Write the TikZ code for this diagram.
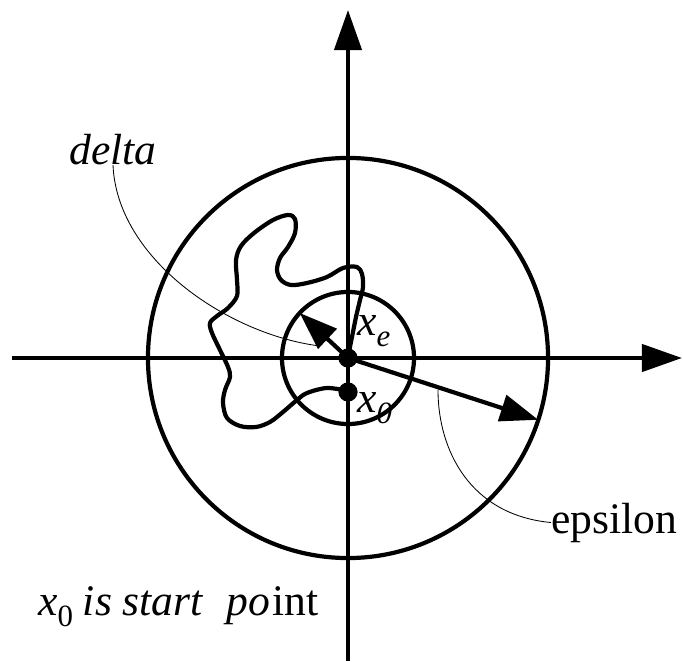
\documentclass[tikz,border=0pt]{standalone}
\usepackage{fontspec}
\setmainfont{Liberation Serif}
\usetikzlibrary{arrows.meta}
\newcommand\subidx[1]{\raisebox{-0.26em}{\fontsize{22}{22}\selectfont #1}}

\begin{document}
\begin{tikzpicture}[
x=0.025cm, y=-0.025cm,
axis/.style={line width=1.05mm, -{Triangle[length=1cm, width=0.675cm]}},
ring/.style={draw, circle, line width=1.05mm, inner sep=0pt, outer sep=0pt},
dot/.style={circle, fill, inner sep=0pt, minimum size=0.48cm},
radarr/.style={line width=1.05mm, -{Triangle[length=0.95cm, width=0.67cm]}},
leader/.style={line width=0.6pt},
walk/.style={line width=1.05mm, line join=round},
lbl/.style={inner sep=0pt, font=\fontsize{31}{37}\selectfont}
]
\useasboundingbox (0,0) rectangle (683,662);

% axes
\coordinate (xl) at (12,358);
\coordinate (xr) at (682,358);
\coordinate (yb) at (348,661);
\coordinate (yt) at (348,10);
\draw[axis] (xl) -- (xr);
\draw[axis] (yb) -- (yt);

% the two balls
\node[ring, minimum size=10cm] (big) at (348,358) {};
\node[ring, minimum size=3.3cm] (small) at (348,358) {};

% path of the point
\draw[walk] plot[smooth, tension=0.55] coordinates {
  (348,391) (327,388) (307,393) (297,400) (283,412) (270,422) (256,427)
  (240,426) (227,418) (223,403) (225,390) (230,377) (228,367) (220,350)
  (212,333) (210,323) (217,316) (228,308) (237,296) (237,280) (236,260)
  (241,246) (254,233) (273,220) (288,215) (295,219) (295,233) (288,247)
  (280,258) (277,270) (281,280) (291,285) (307,283) (327,277) (343,268)
  (357,267) (362,274) (363,287) (360,300) (356,317) (352,337) (348,357)};

\node[dot] (xe) at (348,358) {};
\node[dot] (x0) at (348,392) {};

% radii
\draw[radarr] (xe.center) -- (small.137);
\draw[radarr] (xe.center) -- (big.-18.6);

% labels
\node[lbl, anchor=base west] (xelbl) at (357,335) {\textit{x}\subidx{\textit{e}}};
\node[lbl, anchor=base west] (x0lbl) at (357,412) {\textit{x}\subidx{\textit{0}}};
\node[lbl, anchor=base] (delta) at (113,165) {\textit{delta}};
\node[lbl, anchor=base west] (eps) at (551,533) {epsilon};
\node[lbl, anchor=base west] (note) at (38,615)
  {\textit{x}\subidx{0}\hspace{7pt}\textit{is start}\hspace{16pt}\textit{po}\hspace{2pt}int};

% leaders
\coordinate (dtick) at (320,346);
\coordinate (etick) at (438,390);
\draw[leader] (delta.base) .. controls (117,260) and (230,335) .. (dtick);
\draw[leader] (etick) .. controls (438,450) and (470,515) .. (eps.west);
\end{tikzpicture}
\end{document}
